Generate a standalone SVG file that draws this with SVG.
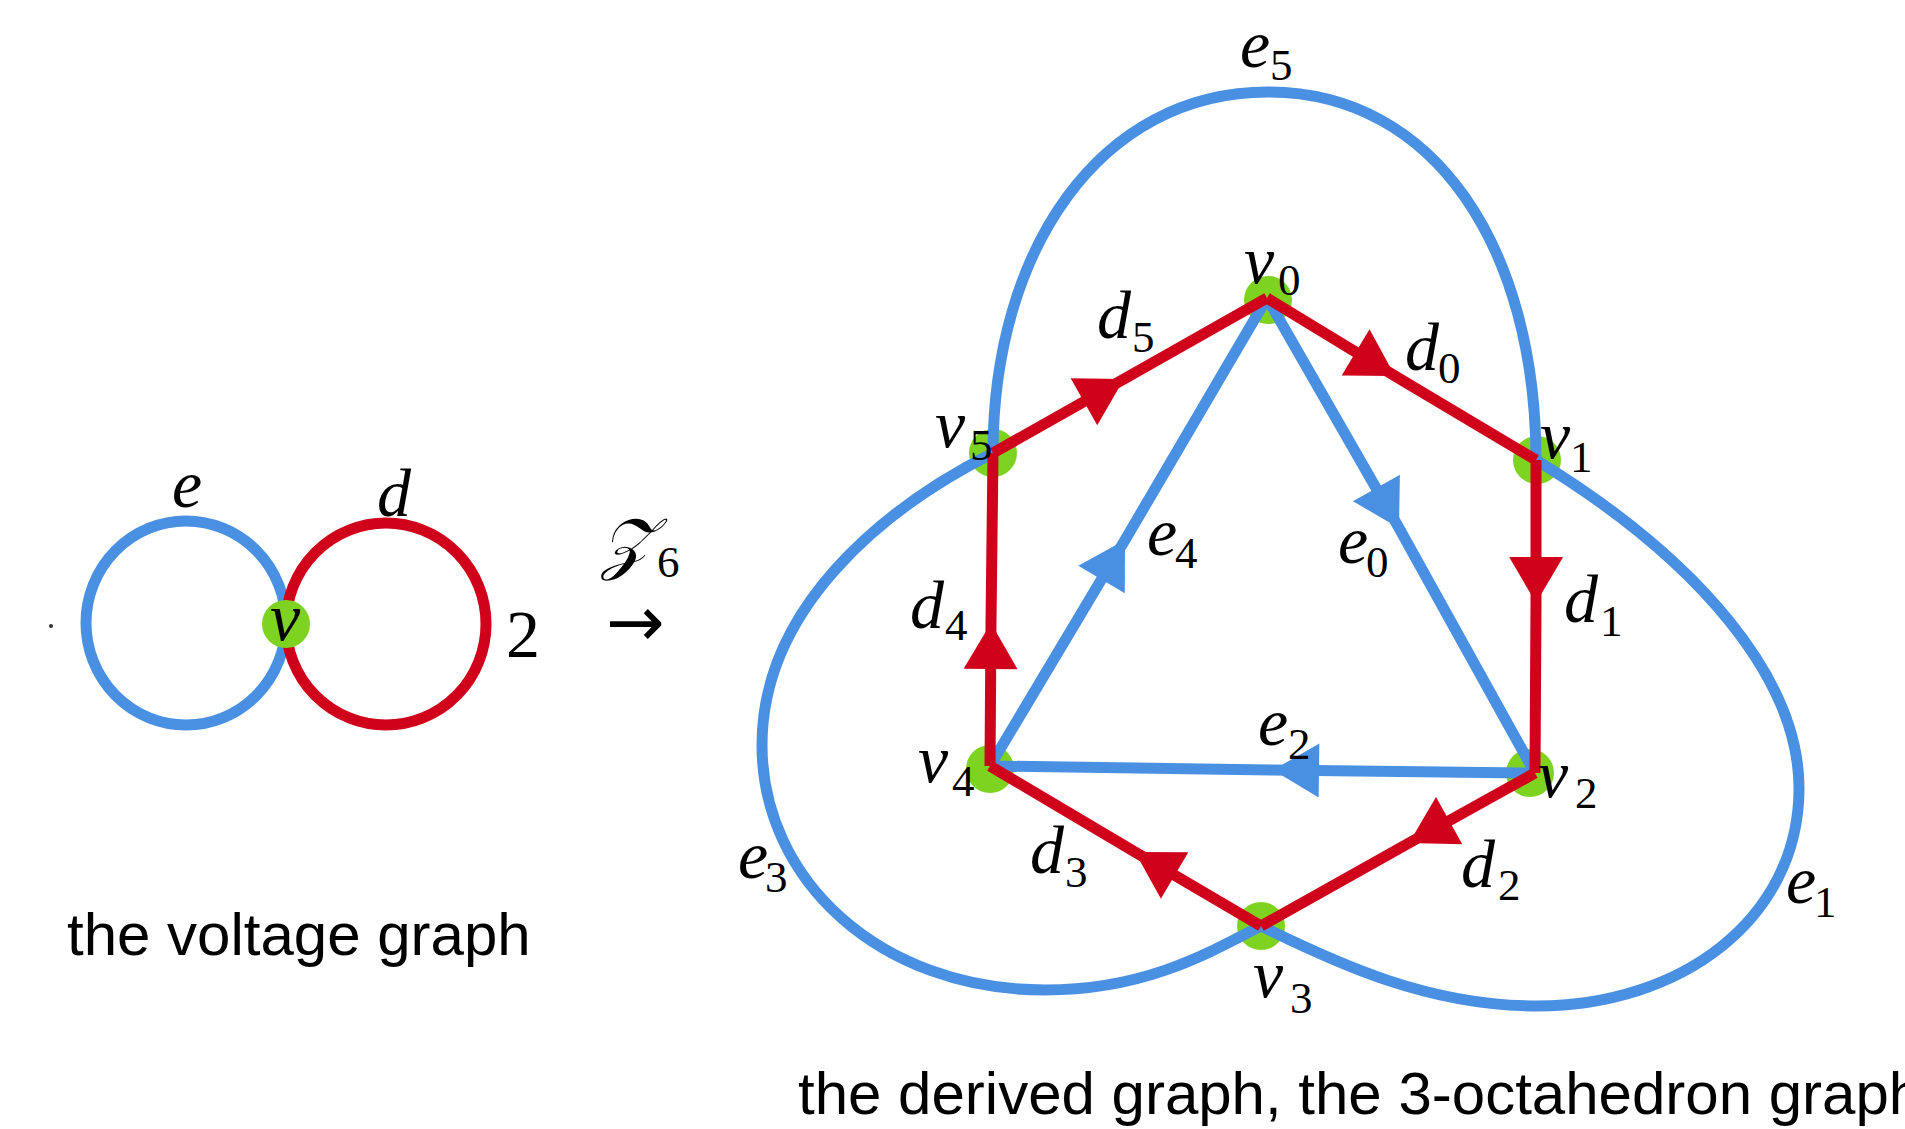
<svg xmlns="http://www.w3.org/2000/svg" width="1905" height="1129" viewBox="0 0 1905 1129">
<style>
.bg{fill:#ffffff}
.blue{fill:none;stroke:#4a90e2;stroke-width:11}
.red{fill:none;stroke:#d0021b;stroke-width:11}
.ar-b{marker-mid:url(#ah-blue)}
.ar-r{marker-mid:url(#ah-red)}
.dot{fill:#7ed321}
.lbl{font-family:"Liberation Serif","DejaVu Serif",serif;font-style:italic;font-size:68px;fill:#000}
.sub{font-style:normal;font-size:45px}
.num{font-family:"Liberation Serif","DejaVu Serif",serif;font-size:68px;fill:#000}
.cap{font-family:"Liberation Sans",Arial,sans-serif;font-size:60px;fill:#000}
</style>
<defs>
<marker id="ah-red" markerUnits="userSpaceOnUse" orient="auto" viewBox="-50 -30 52 60" markerWidth="52" markerHeight="60" refX="0" refY="0"><path d="M0,0 L-46,-27 L-46,27 Z" fill="#d0021b"/></marker>
<marker id="ah-blue" markerUnits="userSpaceOnUse" orient="auto" viewBox="-50 -30 52 60" markerWidth="52" markerHeight="60" refX="0" refY="0"><path d="M0,0 L-46,-27 L-46,27 Z" fill="#4a90e2"/></marker>
</defs>
<rect class="bg" x="0" y="0" width="1905" height="1129"/>

<!-- voltage graph -->
<g id="voltage-connectors">
<ellipse id="loop-e" class="blue" cx="186" cy="623" rx="100" ry="102"/>
<ellipse id="loop-d" class="red" cx="386" cy="624" rx="100" ry="101"/>
</g>
<g id="node-v">
<circle class="dot" cx="286" cy="624" r="24"/>
<text class="lbl" x="270" y="640">v</text>
</g>
<g id="voltage-labels">
<text class="lbl" x="172" y="507">e</text>
<text class="lbl" x="377" y="516">d</text>
<text class="num" x="506" y="657">2</text>
<circle cx="51" cy="626" r="2" fill="#333"/>
</g>
<g id="map-label">
<text class="lbl" x="601" y="566">𝒵<tspan class="sub" x="657" y="577">6</tspan></text>
<text x="606" y="646" style="font-family:'DejaVu Sans',sans-serif;font-size:70px">→</text>
</g>
<text class="cap" x="67" y="955">the voltage graph</text>

<!-- derived graph: node dots -->
<g id="node-v0"><circle class="dot" cx="1268" cy="300" r="24"/></g>
<g id="node-v1"><circle class="dot" cx="1537" cy="460" r="24"/></g>
<g id="node-v2"><circle class="dot" cx="1530" cy="773" r="24"/></g>
<g id="node-v3"><circle class="dot" cx="1261" cy="926" r="24"/></g>
<g id="node-v4"><circle class="dot" cx="990" cy="769" r="24"/></g>
<g id="node-v5"><circle class="dot" cx="993" cy="453" r="24"/></g>

<g id="connectors">
<path id="e5" class="blue" d="M993 453 C993 250 1100 92 1268 92 C1436 92 1536 250 1536 460"/>
<path id="e1" class="blue" d="M1536 460 C1700 560 1800 680 1799 790 C1798 920 1680 1006 1537 1006 C1430 1006 1340 965 1261 926"/>
<path id="e3" class="blue" d="M993 453 C880 510 762 610 762 745 C762 880 880 990 1045 990 C1140 990 1200 958 1261 926"/>
<path id="e0" class="blue ar-b" d="M1267 298 L1399 528 L1535 773"/>
<path id="e4" class="blue ar-b" d="M990 766 L1125 540 L1267 298"/>
<path id="e2" class="blue ar-b" d="M1535 773 L1273 770 L990 766"/>
<path id="d0" class="red ar-r" d="M1267 298 L1395 376 L1536 460"/>
<path id="d1" class="red ar-r" d="M1536 460 L1536 603 L1535 773"/>
<path id="d2" class="red ar-r" d="M1535 773 L1409 843 L1261 926"/>
<path id="d3" class="red ar-r" d="M1261 926 L1135 852 L990 766"/>
<path id="d4" class="red ar-r" d="M990 766 L991 623 L993 453"/>
<path id="d5" class="red ar-r" d="M993 453 L1124 379 L1267 298"/>
</g>

<g id="node-labels">
<text class="lbl" x="1244" y="283">v<tspan class="sub" x="1278" y="295">0</tspan></text>
<text class="lbl" x="1540" y="458">v<tspan class="sub" x="1570" y="472">1</tspan></text>
<text class="lbl" x="1538" y="797">v<tspan class="sub" x="1575" y="808">2</tspan></text>
<text class="lbl" x="1253" y="997">v<tspan class="sub" x="1290" y="1013">3</tspan></text>
<text class="lbl" x="918" y="782">v<tspan class="sub" x="952" y="796">4</tspan></text>
<text class="lbl" x="935" y="447">v<tspan class="sub" x="970" y="460">5</tspan></text>
</g>

<g id="edge-labels">
<text class="lbl" x="1240" y="67">e<tspan class="sub" x="1270" y="80">5</tspan></text>
<text class="lbl" x="1097" y="338">d<tspan class="sub" x="1132" y="352">5</tspan></text>
<text class="lbl" x="1405" y="370">d<tspan class="sub" x="1438" y="383">0</tspan></text>
<text class="lbl" x="1147" y="555">e<tspan class="sub" x="1175" y="568">4</tspan></text>
<text class="lbl" x="1338" y="563">e<tspan class="sub" x="1366" y="577">0</tspan></text>
<text class="lbl" x="910" y="628">d<tspan class="sub" x="945" y="640">4</tspan></text>
<text class="lbl" x="1564" y="622">d<tspan class="sub" x="1600" y="636">1</tspan></text>
<text class="lbl" x="1258" y="745">e<tspan class="sub" x="1288" y="759">2</tspan></text>
<text class="lbl" x="738" y="878">e<tspan class="sub" x="765" y="892">3</tspan></text>
<text class="lbl" x="1030" y="873">d<tspan class="sub" x="1065" y="887">3</tspan></text>
<text class="lbl" x="1461" y="887">d<tspan class="sub" x="1498" y="900">2</tspan></text>
<text class="lbl" x="1786" y="903">e<tspan class="sub" x="1814" y="917">1</tspan></text>
</g>

<text class="cap" x="798" y="1114">the derived graph, the 3-octahedron graph</text>
</svg>
